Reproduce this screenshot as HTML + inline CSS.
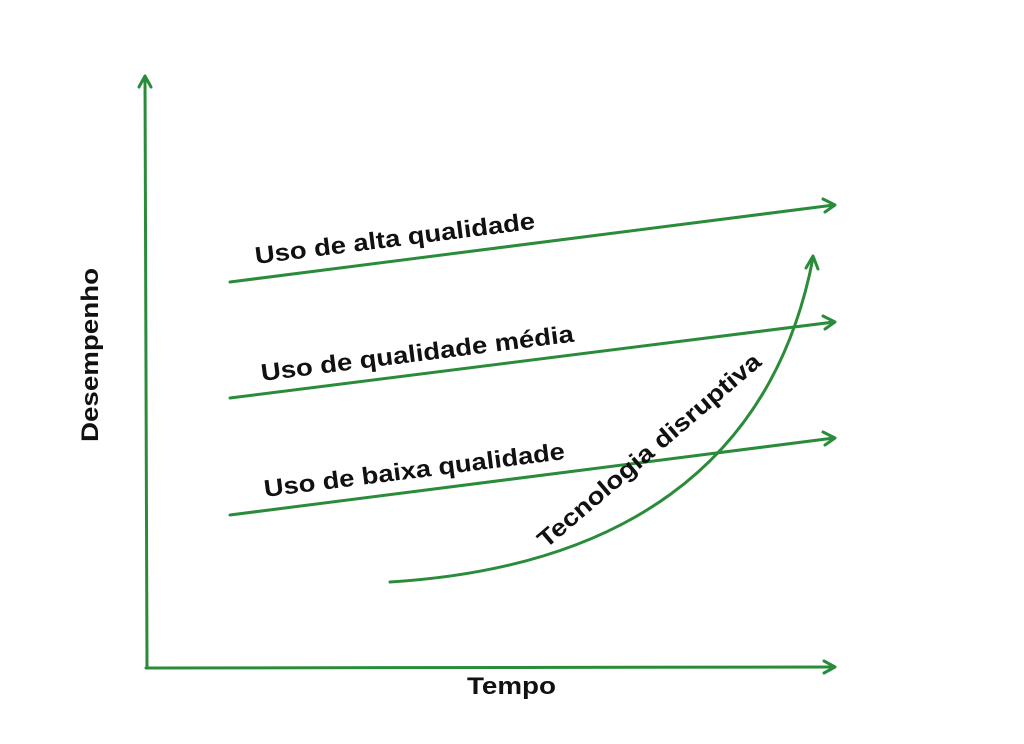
<!DOCTYPE html>
<html><head><style>body{margin:0;background:#fff}svg{display:block}text{font-family:"Liberation Sans",sans-serif;font-weight:bold;fill:#111}</style></head><body>
<svg width="1024" height="744" viewBox="0 0 1024 744">
<g stroke="#2a8c3a" stroke-width="3" fill="none" stroke-linecap="round" stroke-linejoin="round">
<line x1="147" y1="668" x2="145" y2="77"/><polyline points="139,87 145,76 151,87"/>
<line x1="146" y1="668" x2="834" y2="667"/><polyline points="824,661 835,667 824,673"/>
<line x1="230" y1="282" x2="834" y2="205"/><polyline points="823,199 835,205 825,212"/>
<line x1="230" y1="398" x2="834" y2="322"/><polyline points="823,316 835,322 825,329"/>
<line x1="230" y1="515" x2="834" y2="438"/><polyline points="823,432 835,438 825,445"/>
<path d="M390 582 C615 568 772 470 813 258"/><polyline points="806,268 813,256 818,269"/>
</g>
<g font-size="24">
<text transform="translate(256,264) rotate(-7.2)" textLength="282" lengthAdjust="spacingAndGlyphs">Uso de alta qualidade</text>
<text transform="translate(262,381) rotate(-7.2)" textLength="315" lengthAdjust="spacingAndGlyphs">Uso de qualidade média</text>
<text transform="translate(265,497) rotate(-7.2)" textLength="303" lengthAdjust="spacingAndGlyphs">Uso de baixa qualidade</text>
<text transform="translate(546,549) rotate(-40.5)" textLength="285" lengthAdjust="spacingAndGlyphs">Tecnologia disruptiva</text>
<text transform="translate(98,442) rotate(-90)" textLength="174" lengthAdjust="spacingAndGlyphs">Desempenho</text>
<text x="467" y="694" textLength="89" lengthAdjust="spacingAndGlyphs">Tempo</text>
</g>
</svg>
</body></html>
